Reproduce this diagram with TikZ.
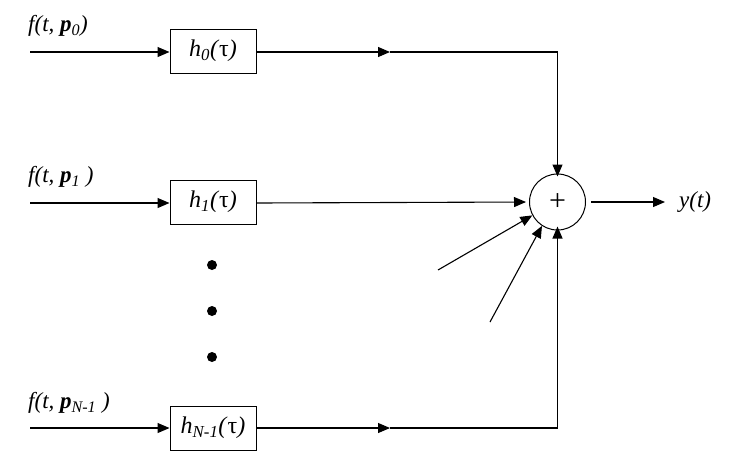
\documentclass[tikz,border=0pt]{standalone}
\usepackage{fontspec}
\setmainfont{Liberation Serif}
\usetikzlibrary{arrows.meta}
\tikzset{
  blk/.style={draw,line width=1pt,minimum width=86pt,minimum height=44pt,inner sep=0pt,font=\fontsize{24}{26}\selectfont},
  sumnode/.style={draw,circle,line width=1pt,minimum size=56pt,inner sep=0pt,font=\fontsize{30}{32}\selectfont},
  arr/.style={line width=1.1pt,-{Triangle[length=12pt,width=10pt]}},
  lbl/.style={anchor=west,inner sep=0pt,font=\fontsize{23}{25}\selectfont},
  dotn/.style={circle,fill=black,minimum size=10pt,inner sep=0pt}
}
\newcommand{\tauup}{\textup{τ}}
\begin{document}
\begin{tikzpicture}[x=1pt,y=-1pt]
\useasboundingbox (0,0) rectangle (746,467);
% blocks
\node[blk] (b0) at (213,51) {\textit{h\textsubscript{0}(}\tauup\textit{)}};
\node[blk] (b1) at (213,202) {\textit{h\textsubscript{1}(}\tauup\textit{)}};
\node[blk] (bN) at (213,428) {\textit{h\textsubscript{N-1}(}\tauup\textit{)}};
\node[sumnode] (s) at (557.5,202) {+};
% input starts
\coordinate (i0) at (30,52);
\coordinate (i1) at (30,203);
\coordinate (iN) at (30,428);
% labels
\node[lbl] (l0) at (28,26) {\textit{f(t, \textbf{p}\textsubscript{0})}};
\node[lbl] (l1) at (28,177) {\textit{f(t, \textbf{p}\textsubscript{1} )}};
\node[lbl] (lN) at (28,403) {\textit{f(t, \textbf{p}\textsubscript{N-1} )}};
% inputs
\draw[arr] (i0) -- (i0 -| b0.west);
\draw[arr] (i1) -- (i1 -| b1.west);
\draw[arr] (iN) -- (iN -| bN.west);
% top path
\coordinate (m0) at (390,52);
\coordinate (c0) at (557.5,52);
\draw[arr] (m0 -| b0.east) -- (m0);
\draw[arr] (m0) -- (c0) -- ([yshift=-3pt]s.north);
% middle
\draw[arr] (i1 -| b1.east) -- ([xshift=-3pt]s.west);
% bottom path
\coordinate (mN) at (390,428);
\coordinate (cN) at (557.5,428);
\draw[arr] (mN -| bN.east) -- (mN);
\draw[arr] (mN) -- (cN) -- ([yshift=4pt]s.south);
% extra diagonal inputs
\coordinate (d1) at (438,270);
\coordinate (d2) at (490,322);
\draw[arr] (d1) -- (s.208);
\draw[arr] (d2) -- (s.237);
% output
\coordinate (o) at (665,202);
\draw[arr] ([xshift=5pt]s.east) -- (o);
\node[lbl] (y) at (679,202) {\textit{y(t)}};
% dots
\node[dotn] (dA) at (212,265) {};
\node[dotn] (dB) at (212,311) {};
\node[dotn] (dC) at (212,357) {};
\end{tikzpicture}
\end{document}
